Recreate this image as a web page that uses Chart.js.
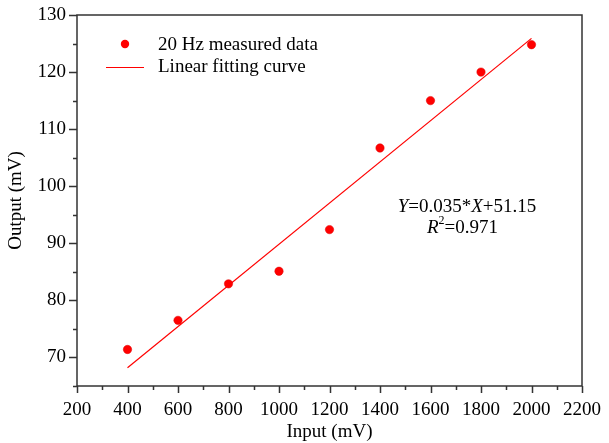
<!DOCTYPE html>
<html>
<head>
<meta charset="utf-8">
<script src="https://cdn.jsdelivr.net/npm/chart.js@4.4.0/dist/chart.umd.min.js"></script>
<style>
  html, body { margin: 0; padding: 0; background: #fff; }
  #wrap { width: 609px; height: 443px; }
</style>
</head>
<body>
<div id="wrap"><canvas id="Chart"></canvas></div>
<script>
// measured points (20 Hz)
const inputs = [400, 600, 800, 1000, 1200, 1400, 1600, 1800, 2000];
const outputs = [71.4, 76.5, 82.9, 85.1, 92.4, 106.7, 115.0, 120.0, 124.8];
// fitted line as drawn
const fitX = [400, 2000];
const fitY = [68.2, 125.9];
const xTicks = [200, 400, 600, 800, 1000, 1200, 1400, 1600, 1800, 2000, 2200];
const yTicks = [70, 80, 90, 100, 110, 120, 130];

const FONT = "'Liberation Serif', 'Times New Roman', serif";
const FS = 19;
const AXIS = "#333";

// axes box + ticks, legend and equation text
const decor = {
  id: "decor",
  afterDraw(chart) {
    const ctx = chart.ctx;
    const a = chart.chartArea;
    const xs = chart.scales.x, ys = chart.scales.y;
    ctx.save();
    ctx.strokeStyle = AXIS;
    ctx.lineWidth = 1.5;
    ctx.strokeRect(a.left, a.top, a.right - a.left, a.bottom - a.top);
    ctx.beginPath();
    for (let v = 200; v <= 2200; v += 100) {
      const px = Math.round(xs.getPixelForValue(v)) + 0.5;
      const len = v % 200 == 0 ? 7 : 4;
      ctx.moveTo(px, a.bottom);
      ctx.lineTo(px, a.bottom + len);
    }
    for (let v = 65; v <= 130; v += 5) {
      const py = Math.round(ys.getPixelForValue(v)) + 0.5;
      const len = v % 10 == 0 ? 8 : 4;
      ctx.moveTo(a.left, py);
      ctx.lineTo(a.left - len, py);
    }
    ctx.stroke();

    // legend
    ctx.fillStyle = "#ff0000";
    ctx.beginPath();
    ctx.arc(125, 44, 4.2, 0, Math.PI * 2);
    ctx.fill();
    ctx.strokeStyle = "#ff0000";
    ctx.lineWidth = 1;
    ctx.beginPath();
    ctx.moveTo(106, 67.5);
    ctx.lineTo(144, 67.5);
    ctx.stroke();
    ctx.fillStyle = "#000";
    ctx.font = FS + "px " + FONT;
    ctx.textBaseline = "middle";
    ctx.textAlign = "left";
    ctx.fillText("20 Hz measured data", 158, 45);
    ctx.fillText("Linear fitting curve", 158, 67);

    // equation
    const parts = [["Y", true], ["=0.035*", false], ["X", true], ["+51.15", false]];
    let w = 0;
    parts.forEach(p => { ctx.font = (p[1] ? "italic " : "") + FS + "px " + FONT; w += ctx.measureText(p[0]).width; });
    let x = 467 - w / 2;
    parts.forEach(p => {
      ctx.font = (p[1] ? "italic " : "") + FS + "px " + FONT;
      ctx.fillText(p[0], x, 207);
      x += ctx.measureText(p[0]).width;
    });
    x = 427;
    ctx.font = "italic " + FS + "px " + FONT;
    ctx.fillText("R", x, 228);
    x += ctx.measureText("R").width;
    ctx.font = "12px " + FONT;
    ctx.fillText("2", x, 221);
    x += ctx.measureText("2").width;
    ctx.font = FS + "px " + FONT;
    ctx.fillText("=0.971", x, 228);
    ctx.restore();
  },
};

new Chart(document.getElementById("Chart"), {
  type: "scatter",
  data: {
    datasets: [
      {
        label: "20 Hz measured data",
        data: inputs.map((v, i) => ({ x: v, y: outputs[i] })),
        backgroundColor: "#ff0000",
        borderColor: "#e00000",
        borderWidth: 0.5,
        pointRadius: 4.2,
      },
      {
        label: "Linear fitting curve",
        type: "line",
        data: fitX.map((v, i) => ({ x: v, y: fitY[i] })),
        borderColor: "#ff0000",
        borderWidth: 1.2,
        pointRadius: 0,
        fill: false,
      },
    ],
  },
  options: {
    responsive: true,
    maintainAspectRatio: false,
    animation: false,
    layout: { padding: { left: 0, right: 27, top: 15, bottom: 0 } },
    plugins: { legend: { display: false }, tooltip: { enabled: false } },
    scales: {
      x: {
        type: "linear",
        min: 200,
        max: 2200,
        afterBuildTicks: (s) => { s.ticks = xTicks.map((v) => ({ value: v })); },
        afterFit: (s) => { s.height = 57; s.paddingLeft = 0; s.paddingRight = 0; },
        grid: { display: false, drawTicks: false },
        border: { display: false },
        ticks: { color: "#000", font: { family: FONT, size: FS }, padding: 13, maxRotation: 0, callback: (v) => String(v) },
        title: { display: true, text: "Input (mV)", color: "#000", font: { family: FONT, size: FS }, padding: { top: 4, bottom: 0 } },
      },
      y: {
        min: 65,
        max: 130,
        afterBuildTicks: (s) => { s.ticks = yTicks.map((v) => ({ value: v })); },
        afterFit: (s) => { s.width = 77; s.paddingTop = 0; s.paddingBottom = 0; },
        grid: { display: false, drawTicks: false },
        border: { display: false },
        ticks: { color: "#000", font: { family: FONT, size: FS }, padding: 11, callback: (v) => String(v) },
        title: { display: true, text: "Output (mV)", color: "#000", font: { family: FONT, size: FS }, padding: { bottom: 0, top: 5 } },
      },
    },
  },
  plugins: [decor],
});
</script>
</body>
</html>
